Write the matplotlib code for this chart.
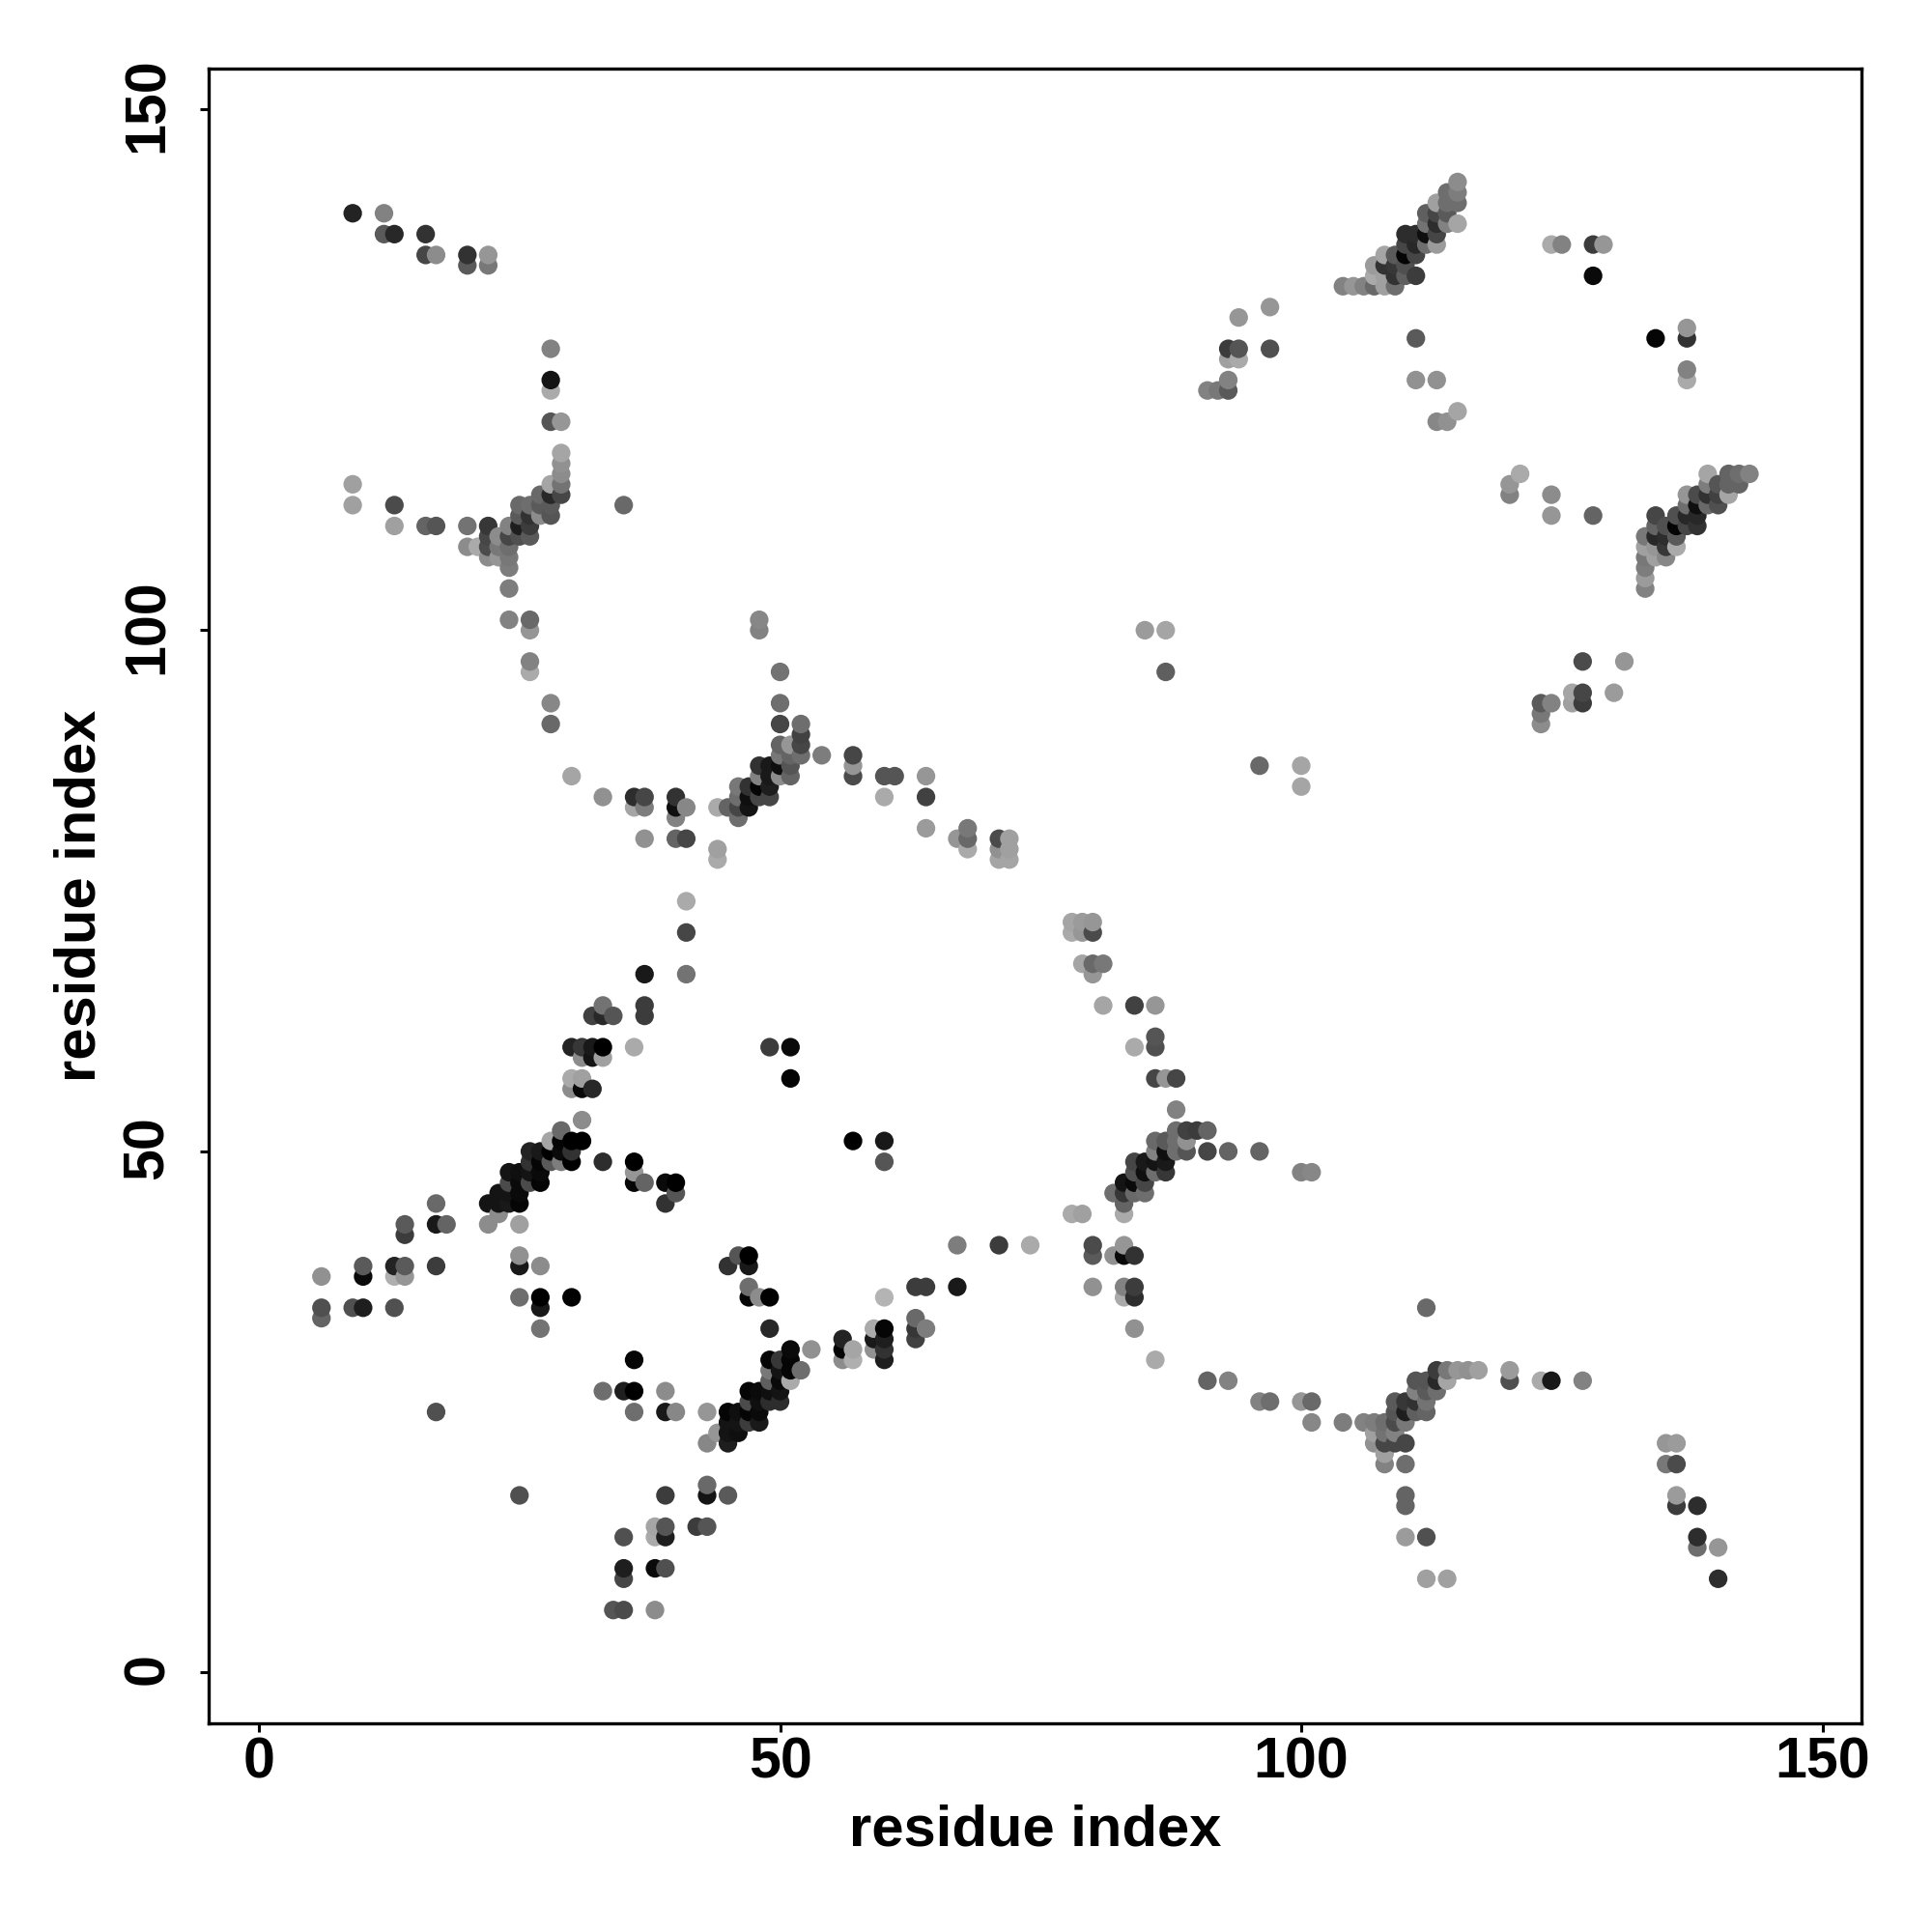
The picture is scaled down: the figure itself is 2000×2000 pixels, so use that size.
#!/usr/bin/env python3
import numpy as np
import matplotlib as mpl
mpl.use('Agg')
import matplotlib.pyplot as plt
from matplotlib.transforms import ScaledTranslation

# (residue i, residue j, gray level 0-255), one list per blob
top_left = [(9,140,35),(12,140,130),(12,138,90),(13,138,40),(16,138,50),(16,136,70),(17,136,140),
    (20,136,50),(20,135,90),(22,136,150),(22,135,120)]
upper_left = [(28,127,130),(28,124,20),(28,123,170),(28,120,85),(29,120,150),(29,117,165),(29,116,145),
    (29,115,140),(29,114,115),(29,113,70),(28,114,165),(28,113,40),(27,113,105),(27,112,90),(28,112,90),
    (28,111,85),(25,112,105),(26,112,110),(25,111,90),(26,111,50),(27,111,140),(24,110,130),(25,110,30),
    (26,110,60),(24,109,70),(25,109,80),(26,109,90),(22,110,55),(23,109,140),(22,109,70),(22,108,75),
    (24,108,110),(23,108,120),(24,107,120),(23,107,150),(22,107,140),(20,110,115),(20,108,140),(21,108,170),
    (24,106,125),(24,104,125),(24,101,130),(26,101,105),(26,100,150),(26,97,130),(26,96,170),(28,93,135),
    (28,91,105),(9,114,160),(9,112,160),(13,112,75),(13,110,160),(16,110,100),(17,110,85),(35,112,105)]
mid_upper = [(48,101,135),(48,100,130),(50,96,115),(50,93,110),(50,91,70),(52,91,110),(52,90,65),(52,89,70),
    (52,88,110),(50,89,100),(51,89,150),(50,88,120),(51,88,100),(51,87,85),(51,86,100),(50,86,140),(50,87,15),
    (49,87,25),(48,87,50),(48,86,130),(49,86,25),(48,85,5),(49,85,30),(47,85,50),(46,85,120),(46,84,110),
    (47,84,15),(48,84,70),(49,84,70),(44,83,170),(45,83,100),(46,83,70),(47,83,20),(46,82,110),(54,88,125),
    (57,88,70),(57,87,150),(57,86,75),(60,86,85),(61,86,85),(64,86,150),(60,84,170),(64,84,65),(64,81,155),
    (67,80,150),(68,81,120),(68,80,105),(68,79,170),(71,80,75),(72,80,160),(71,79,145),(72,79,160),(71,78,165),
    (72,78,165),(30,86,165),(33,84,145),(36,84,45),(37,84,70),(36,83,165),(37,83,125),(40,84,50),(40,83,15),
    (41,83,135),(40,82,130),(37,80,145),(40,80,100),(41,80,70),(44,79,160),(44,78,170),(41,74,170),(41,71,70),
    (37,67,25),(41,67,115)]
left_mid = [(33,64,115),(32,63,65),(33,63,40),(34,63,85),(37,64,60),(37,63,60),(30,60,35),(31,60,55),(32,60,25),
    (33,60,0),(36,60,170),(31,59,140),(32,59,20),(33,59,160),(30,57,170),(31,57,160),(30,56,140),(31,56,10),
    (32,56,40),(31,53,140),(49,60,60),(51,60,10),(51,57,5),(57,51,0),(60,51,25),(60,49,85)]
helix_one = [(28,51,165),(29,52,105),(29,51,5),(30,51,0),(31,51,0),(33,49,45),(36,49,0),(36,48,150),(36,47,5),
    (37,47,100),(39,47,10),(40,47,0),(40,46,85),(39,45,50),(22,45,20),(23,46,20),(24,45,25),(25,45,5),(23,45,20),
    (24,46,20),(25,46,10),(24,47,75),(25,47,10),(26,47,75),(27,47,5),(24,48,20),(25,48,15),(26,48,20),(27,48,10),
    (26,49,50),(27,49,5),(28,49,90),(29,49,125),(30,49,0),(26,50,35),(27,50,25),(28,50,0),(29,50,10),(30,50,50),
    (22,43,140),(23,44,140),(25,43,160),(17,45,105),(17,43,25),(18,43,100),(14,43,90),(14,42,60)]
lower_left = [(6,38,145),(6,35,80),(6,34,100),(9,35,80),(10,35,30),(10,39,90),(10,38,10),(13,39,35),(14,39,90),
    (13,38,175),(14,38,150),(13,35,80),(17,39,60),(25,40,145),(25,39,25),(27,39,140),(25,36,110),(27,36,0),
    (30,36,0),(27,35,25),(27,33,115),(17,25,80),(36,30,5),(33,27,110),(35,27,30),(36,27,0),(39,27,140),(36,25,110),
    (39,25,25),(40,25,135),(43,25,150),(25,17,80),(39,17,60),(43,17,20),(45,17,90),(43,18,105),(42,14,60),
    (43,14,85),(38,14,165),(39,14,85),(38,13,170),(39,13,30),(35,13,80),(35,10,30),(38,10,10),(39,10,80),
    (35,9,70),(34,6,85),(35,6,75),(38,6,140)]
helix_two = [(43,22,135),(45,22,30),(44,23,150),(45,23,20),(46,23,15),(45,24,20),(46,24,20),(47,24,60),(48,24,25),
    (45,25,5),(46,25,15),(47,25,5),(48,25,10),(47,26,75),(48,26,15),(49,26,45),(50,26,45),(47,27,5),(48,27,10),
    (49,27,15),(50,27,20),(49,28,95),(50,28,10),(51,28,170),(49,29,120),(50,29,20),(51,29,5),(52,29,110),
    (49,30,5),(50,30,55),(51,30,5),(51,31,10),(53,31,145),(49,33,40),(47,36,5),(48,36,140),(49,36,0),
    (47,37,110),(47,39,25),(45,39,50),(47,40,0),(46,40,85)]
lower_mid = [(56,30,140),(57,30,175),(60,30,30),(56,31,5),(57,31,165),(59,31,145),(60,31,50),(56,32,35),(59,32,25),
    (60,32,30),(63,32,65),(59,33,170),(60,33,5),(63,33,55),(64,33,125),(63,34,105),(60,36,180),(63,37,60),
    (64,37,60),(67,37,25),(67,41,125),(71,41,60),(74,41,170)]
strand_mid = [(78,72,165),(79,72,155),(80,72,150),(78,71,170),(79,71,150),(80,71,75),(79,68,165),(80,68,105),
    (81,68,120),(80,67,150),(81,64,165),(84,64,65),(86,64,150),(86,61,85),(86,60,80),(84,60,170),(86,57,70),
    (87,57,150),(88,57,70),(88,54,130),(88,52,110),(89,52,65),(90,52,60),(91,52,100),(86,51,105),(87,51,90),
    (88,51,110),(89,51,145),(86,50,130),(87,50,15),(88,50,110),(89,50,85),(91,50,70),(93,50,100),(96,50,100),
    (84,49,70),(85,49,25),(86,49,20),(87,49,25),(84,48,80),(85,48,15),(86,48,110),(87,48,55),(100,48,130),
    (101,48,135),(83,47,20),(84,47,10),(85,47,70),(82,46,110),(83,46,55),(84,46,105),(85,46,110),(83,45,100),
    (78,44,170),(79,44,160),(83,44,170),(80,41,75),(83,41,150),(80,40,90),(82,40,145),(83,40,10),(84,40,50),
    (80,37,145),(83,37,130),(84,37,60),(83,36,170),(84,36,45),(84,33,145),(86,30,170)]
lower_right = [(112,35,105),(91,28,100),(93,28,130),(96,26,130),(97,26,110),(100,26,150),(101,26,105),(101,24,135),
    (113,29,60),(114,29,120),(115,29,150),(116,29,145),(117,29,160),(120,29,155),(111,28,85),(112,28,85),
    (113,28,40),(114,28,165),(120,28,80),(123,28,170),(124,28,25),(127,28,130),(111,27,130),(112,27,90),
    (113,27,110),(109,26,90),(110,26,55),(111,26,50),(112,26,115),(109,25,85),(110,25,30),(111,25,95),(112,25,100),
    (104,24,125),(106,24,130),(107,24,125),(108,24,110),(109,24,75),(110,24,120),(107,23,160),(108,23,115),
    (109,23,130),(107,22,145),(108,22,70),(109,22,70),(110,22,70),(108,21,160),(108,20,130),(110,20,110),
    (110,17,100),(110,16,100),(110,13,155),(112,13,80),(112,9,160),(114,9,160),(135,22,150),(136,22,155),
    (135,20,120),(136,20,75),(136,17,155),(136,16,60),(138,16,45),(138,13,45),(138,12,110),(140,12,150),(140,9,45)]
mid_scatter = [(85,100,155),(87,100,165),(87,96,95),(96,87,105),(100,87,165),(100,85,165),(127,97,75),(131,97,150),
    (130,94,155),(127,94,70),(126,94,165),(127,93,60),(126,93,160),(123,93,90),(124,93,130),(123,92,120),(123,91,140)]
top_right = [(115,143,140),(114,142,110),(115,142,125),(115,141,110),(114,141,110),(113,141,160),(112,140,95),
    (113,140,70),(114,140,90),(112,139,115),(113,139,45),(114,139,130),(115,139,165),(110,138,45),(111,138,45),
    (112,138,15),(113,138,70),(110,137,70),(111,137,40),(112,137,110),(113,137,155),(109,136,90),(110,136,5),
    (111,136,70),(108,136,165),(107,135,155),(108,135,50),(109,135,55),(110,135,80),(107,134,170),(108,134,160),
    (109,134,50),(110,134,95),(111,134,60),(104,133,130),(105,133,150),(106,133,130),(107,133,105),(108,133,160),
    (109,133,110),(124,137,170),(125,137,130),(128,137,60),(129,137,150),(128,134,10),(111,128,90),(134,128,5),
    (137,129,150),(137,128,50),(137,125,130),(137,124,170),(111,124,145),(113,124,145),(113,120,135),(114,120,145),
    (115,121,165),(94,130,150),(97,131,150),(93,127,60),(94,127,85),(97,127,80),(93,126,160),(94,126,170),
    (93,124,130),(93,123,90),(92,123,120),(91,123,130)]
right_helix = [(121,115,170),(120,114,150),(120,113,130),(124,113,140),(124,111,150),(128,111,100),(139,115,165),
    (141,115,100),(142,115,110),(143,115,130),(139,114,125),(140,114,85),(141,114,100),(142,114,100),(137,113,150),
    (138,113,75),(139,113,50),(140,113,65),(141,113,165),(137,112,110),(138,112,15),(139,112,105),(140,112,80),
    (136,111,80),(137,111,40),(138,111,40),(134,111,70),(134,110,100),(135,110,80),(136,110,5),(137,110,70),
    (138,110,50),(133,109,120),(134,109,40),(135,109,45),(136,109,90),(133,108,160),(134,108,150),(135,108,55),
    (136,108,170),(133,107,120),(134,107,160),(135,107,135),(133,106,125),(133,105,155),(133,104,130)]

x_ticks = [0, 50, 100, 150]
y_ticks = [0, 50, 100, 150]

plt.rcParams['font.family'] = ['Liberation Sans', 'DejaVu Sans']
plt.rcParams['font.weight'] = 'bold'

contacts = np.array(top_left + upper_left + mid_upper + left_mid + helix_one + lower_left + helix_two
                    + lower_mid + strand_mid + lower_right + mid_scatter + top_right + right_helix)
# later residues sit on top in the reference
order = np.lexsort((contacts[:, 1], contacts[:, 0]))
contacts = contacts[order]
colors = np.repeat(contacts[:, 2:3] / 255.0, 3, axis=1)

fig = plt.figure(figsize=(10, 10), dpi=200)
ax = fig.add_axes([216 / 2000, 216 / 2000, 1711 / 2000, 1713 / 2000])
ax.scatter(contacts[:, 0], contacts[:, 1], s=48, c=colors, linewidths=0)

ax.set_xlim(-4.82, 153.75)
ax.set_ylim(-4.87, 153.88)
ax.set_xticks(x_ticks)
ax.set_yticks(y_ticks)
ax.tick_params(axis='both', length=3.2, width=1.1, labelsize=21.3)
ax.tick_params(axis='x', pad=1.5)
ax.tick_params(axis='y', pad=9.5)
# rotated labels land a little low, nudge them up onto the ticks
nudge = ScaledTranslation(0, 1.4 / 72, fig.dpi_scale_trans)
for lab in ax.get_yticklabels():
    lab.set_rotation(90)
    lab.set_va('center')
    lab.set_transform(lab.get_transform() + nudge)
for sp in ax.spines.values():
    sp.set_linewidth(1.2)

ax.set_xlabel("residue index", fontsize=21.5, fontweight='bold')
ax.set_ylabel("residue index", fontsize=21.5, fontweight='bold')
ax.xaxis.set_label_coords(0.5, -0.0485)
ax.yaxis.set_label_coords(-0.0615, 0.5)

plt.savefig('out.png', dpi=200)
